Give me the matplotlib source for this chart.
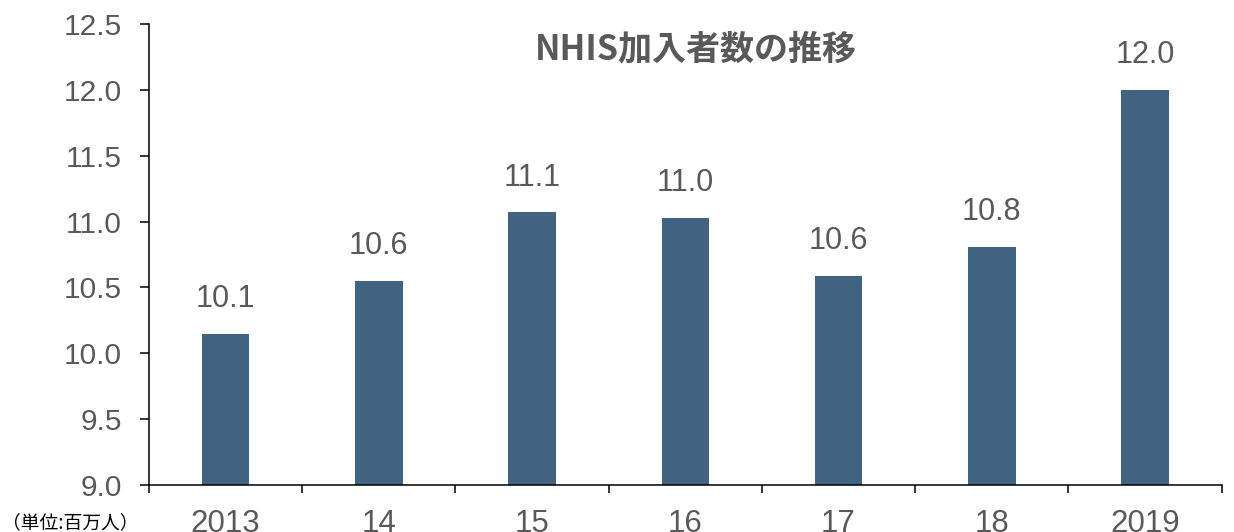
import matplotlib.pyplot as plt
import numpy as np

plt.rcParams['font.family'] = ['Liberation Sans', 'Noto Sans CJK JP', 'DejaVu Sans']

# ---- data ---- #
years       = ['2013', '14', '15', '16', '17', '18', '2019']
members     = [10.15, 10.55, 11.07, 11.03, 10.59, 10.81, 12.0]
bar_labels  = ['10.1', '10.6', '11.1', '11.0', '10.6', '10.8', '12.0']
y_ticks     = [9.0, 9.5, 10.0, 10.5, 11.0, 11.5, 12.0, 12.5]

TITLE = 'NHIS加入者数の推移'
UNIT  = '（単位:百万人）'

BAR_COLOR  = '#406381'
TEXT_COLOR = '#595959'

# -------------------------------------------------- #

fig = plt.figure(figsize=(12.34, 5.32), dpi=100)
ax = fig.add_axes([0.1207, 0.0883, 0.8693, 0.8666])

x = np.arange(len(years))
ax.bar(x, members, width=0.31, color=BAR_COLOR, zorder=2)

for xi, val, lab in zip(x, members, bar_labels):
    ax.annotate(lab, (xi, val), xytext=(0, 14), textcoords='offset points',
                ha='center', va='bottom', fontsize=22, color=TEXT_COLOR)

ax.set_ylim(9.0, 12.5)
ax.set_xlim(-0.5, len(years) - 0.5)

ax.set_yticks(y_ticks)
ax.set_yticklabels([f'{t:.1f}' for t in y_ticks], fontsize=21.5, color=TEXT_COLOR)
ax.tick_params(axis='y', length=6.5, width=1.1, pad=13, color='black')

# category labels at centres, tick marks on the boundaries
ax.set_xticks(x)
ax.set_xticklabels(years, fontsize=22.5, color=TEXT_COLOR)
ax.tick_params(axis='x', which='major', length=0, pad=17)
ax.set_xticks(np.arange(len(years) + 1) - 0.5, minor=True)
ax.tick_params(axis='x', which='minor', length=6, width=1.1, color='black')

for side in ['top', 'right']:
    ax.spines[side].set_visible(False)
for side in ['left', 'bottom']:
    ax.spines[side].set_linewidth(1.1)
    ax.spines[side].set_color('black')

ax.text(0.51, 0.945, TITLE, transform=ax.transAxes, ha='center', va='center',
        fontsize=24.5, fontweight='bold', color=TEXT_COLOR,
        family=['Noto Sans CJK JP', 'DejaVu Sans'])

fig.text(0.002, 0.018, UNIT, ha='left', va='center', fontsize=13.5,
         color='black', family=['Noto Sans CJK JP', 'DejaVu Sans'])

fig.savefig('out.png', dpi=100)
